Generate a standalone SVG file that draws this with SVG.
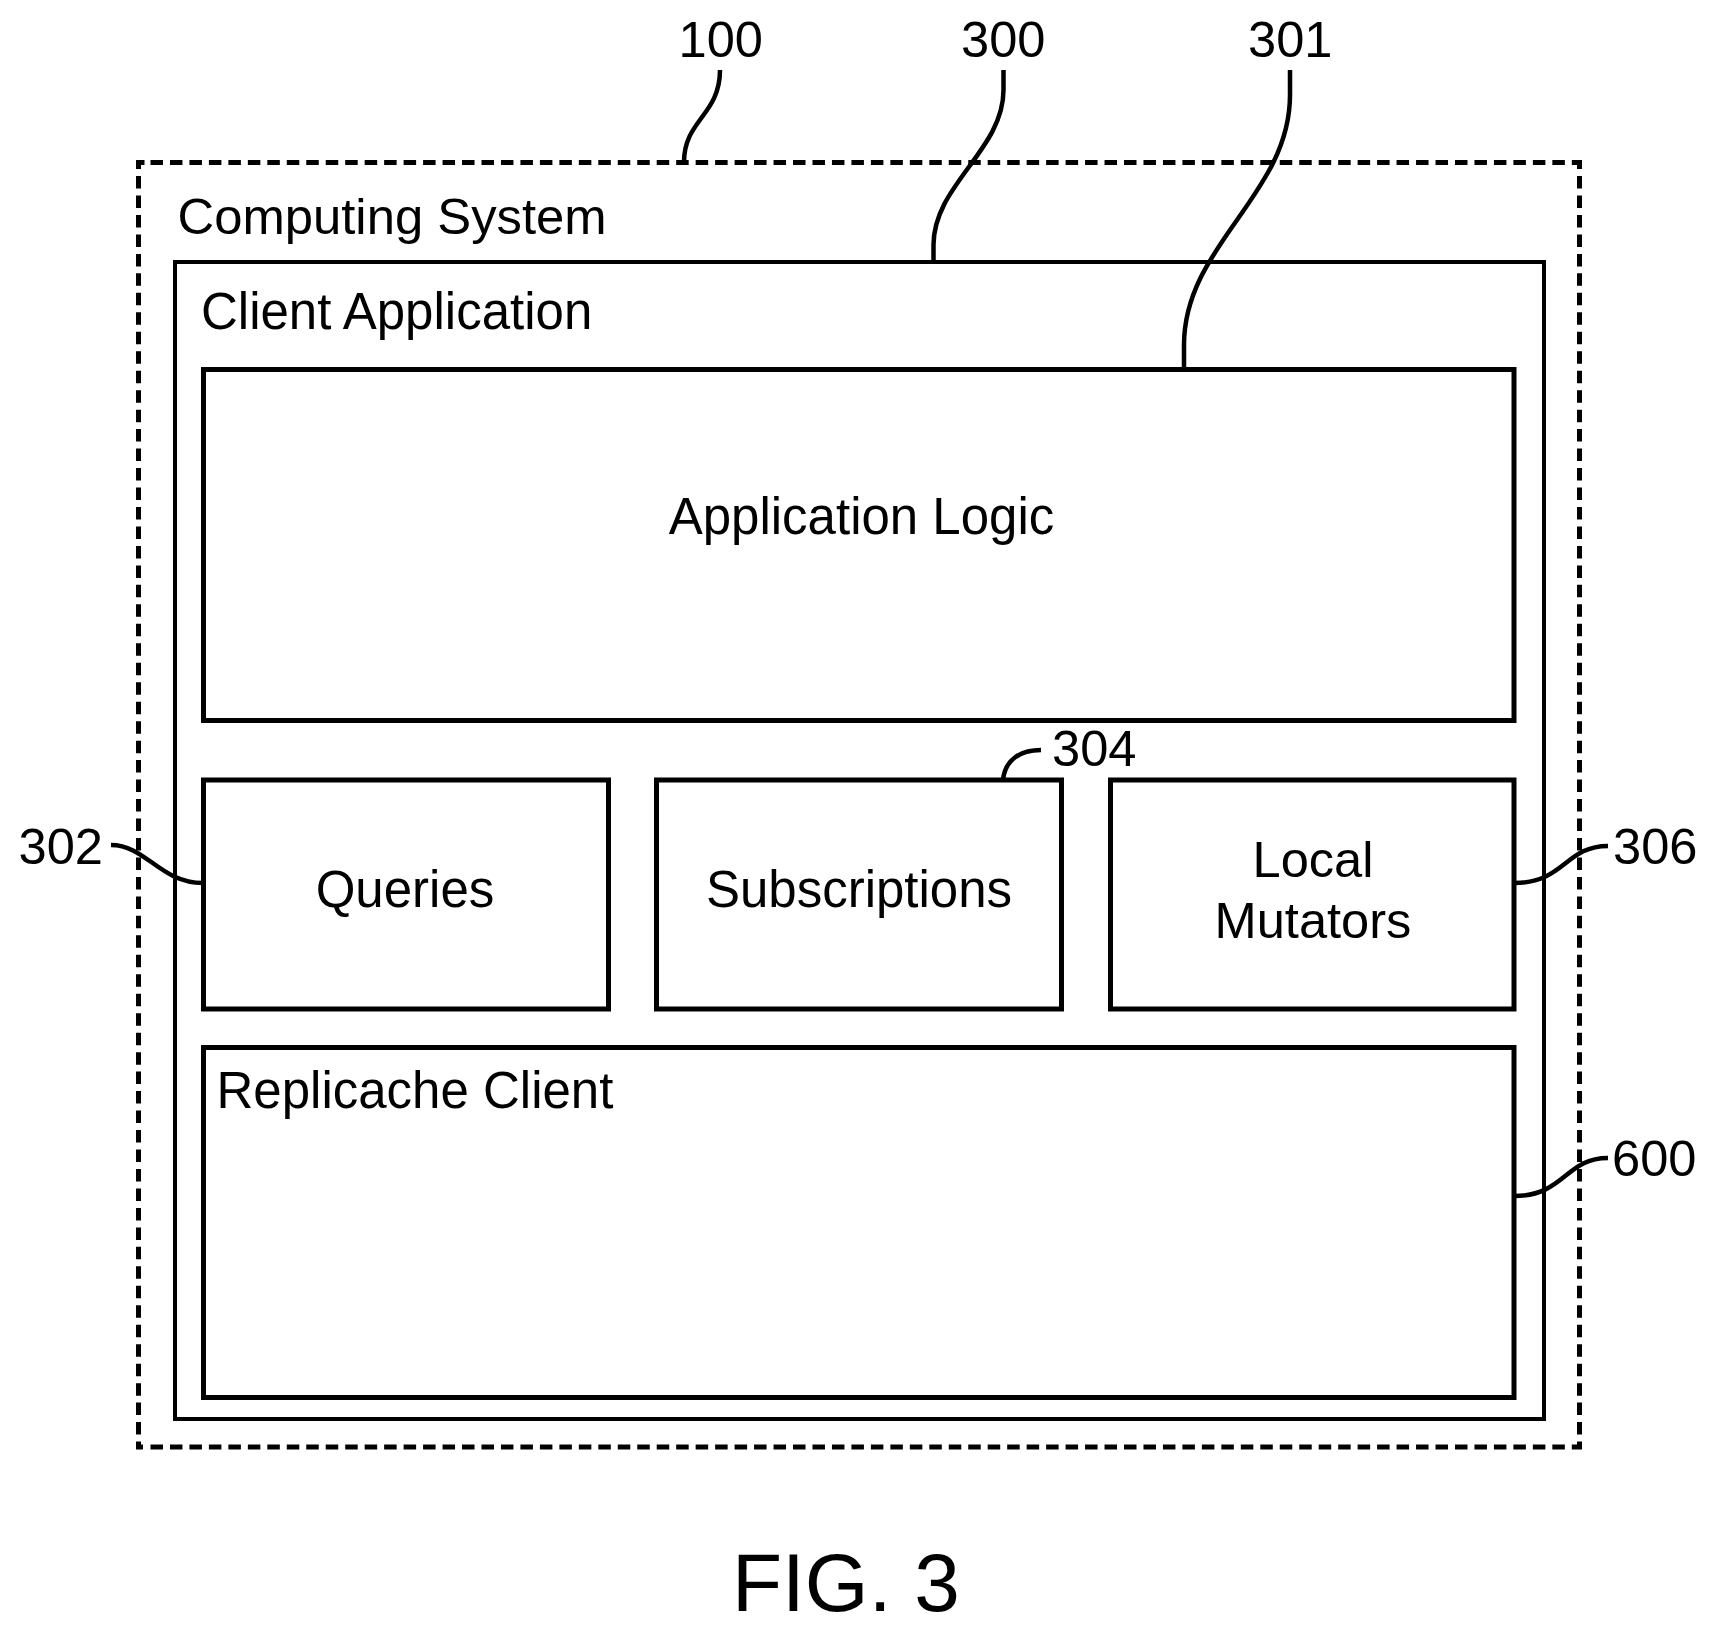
<svg xmlns="http://www.w3.org/2000/svg" width="1716" height="1633" viewBox="0 0 1716 1633">
<style>
text{font-family:"Liberation Sans",Arial,sans-serif;font-size:51px;fill:#000}
.n{font-size:50.6px}
.m{text-anchor:middle}
.box{fill:none;stroke:#000;stroke-width:5}
.thin{fill:none;stroke:#000;stroke-width:4}
.dash{fill:none;stroke:#000;stroke-width:5;stroke-dasharray:12.5 6.97}
.lead{fill:none;stroke:#000;stroke-width:4.5}
</style>
<rect width="1716" height="1633" fill="#fff"/>
<g id="computing-system">
<path class="dash" d="M150.5 162.5H1582M150.5 1447H1582M138.5 176V1449.5M1579.5 176V1449.5M138.5 169V162.5H145.5M1579.5 169V160M138.5 1447H143"/>
<text x="177.5" y="234" style="font-size:50.8px">Computing System</text>
</g>
<g id="client-application">
<rect class="thin" x="175" y="262" width="1369" height="1157"/>
<text x="201" y="329">Client Application</text>
</g>
<g id="application-logic">
<rect class="box" x="203.5" y="369.5" width="1310.5" height="351"/>
<text class="m" x="861.5" y="534">Application Logic</text>
</g>
<g id="queries">
<rect class="box" x="203.5" y="780" width="405" height="229"/>
<text class="m" x="405" y="907">Queries</text>
</g>
<g id="subscriptions">
<rect class="box" x="656.5" y="780" width="405" height="229"/>
<text class="m" x="859" y="907">Subscriptions</text>
</g>
<g id="local-mutators">
<rect class="box" x="1110.5" y="780" width="403.5" height="229"/>
<text class="m n" x="1313" y="877">Local</text>
<text class="m n" x="1313" y="938">Mutators</text>
</g>
<g id="replicache-client">
<rect class="box" x="203.5" y="1047.5" width="1310.5" height="350"/>
<text x="216.5" y="1108">Replicache Client</text>
</g>
<g id="connectors">
<path class="lead" d="M720 70C720 115 684 120 684 162"/>
<path class="lead" d="M1003.5 70V90C1003.5 150 933.5 185 933.5 245V262"/>
<path class="lead" d="M1290 70V95C1290 195 1184 245 1184 345V369"/>
<path class="lead" d="M111 845C146 845 160 883 203 883"/>
<path class="lead" d="M1041 750C1020 750 1005 760 1003 780"/>
<path class="lead" d="M1514 883C1565 883 1565 846 1608 846"/>
<path class="lead" d="M1514 1196C1565 1196 1565 1158 1608 1158"/>
</g>
<g id="reference-numerals">
<text class="n" x="678.5" y="56.5">100</text>
<text class="n" x="961" y="56.5">300</text>
<text class="n" x="1248" y="56.5">301</text>
<text class="n" x="18.5" y="864">302</text>
<text class="n" x="1052" y="766">304</text>
<text class="n" x="1613" y="864">306</text>
<text class="n" x="1612" y="1176">600</text>
</g>
<text id="figure-caption" x="732" y="1611" style="font-size:82px">FIG. 3</text>
</svg>
